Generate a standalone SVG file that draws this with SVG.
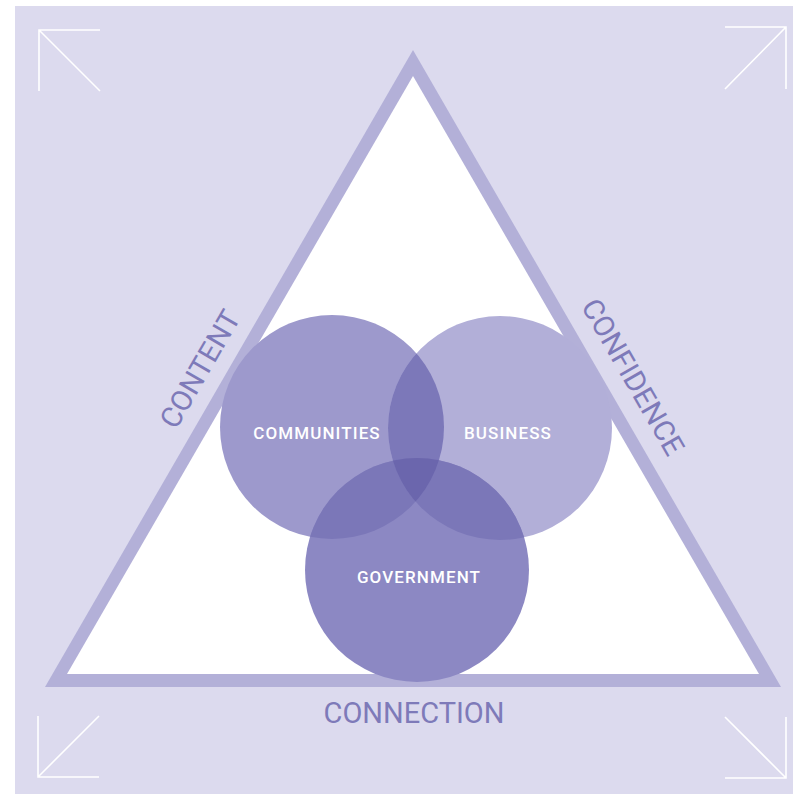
<svg xmlns="http://www.w3.org/2000/svg" width="793" height="794" viewBox="0 0 793 794">
<defs>
<style>
.corner{fill:none;stroke:#ffffff;stroke-width:1.6;}
.lbl{font-family:Roboto,"Liberation Sans",sans-serif;fill:#ffffff;font-size:17px;font-weight:500;letter-spacing:1.1px;text-anchor:middle;}
.side{font-family:Roboto,"Liberation Sans",sans-serif;fill:#7e7ab9;font-size:29px;font-weight:400;text-anchor:middle;}
</style>
<clipPath id="clipC"><circle cx="332" cy="427" r="112"/></clipPath>
<clipPath id="clipB"><circle cx="500" cy="428" r="112"/></clipPath>
</defs>
<rect x="0" y="0" width="793" height="794" fill="#ffffff"/>
<rect x="15" y="6" width="778" height="788" fill="#dcdaee"/>
<g id="corners">
<path class="corner" d="M39,91 L39,30 L100,30 M39,30 L100,91"/>
<path class="corner" d="M725,27 L786,27 L786,89 M786,27 L725,89"/>
<path class="corner" d="M38,716 L38,777 L99,777 M38,777 L99,716"/>
<path class="corner" d="M725,717 L786,778 M786,717 L786,778 L725,778"/>
</g>
<g id="triangle">
<polygon points="413,50 45,687 781,687" fill="#b3b0d8"/>
<polygon points="413,76 67,674 759,674" fill="#ffffff"/>
</g>
<g id="communities">
<circle cx="332" cy="427" r="112" fill="#9d99cc"/>
</g>
<g id="business">
<circle cx="500" cy="428" r="112" fill="#b2afd8"/>
</g>
<g id="government">
<circle cx="417" cy="570" r="112" fill="#8c88c3"/>
</g>
<g id="overlaps">
<circle cx="500" cy="428" r="112" fill="#7c78b9" clip-path="url(#clipC)"/>
<circle cx="417" cy="570" r="112" fill="#7b77b8" clip-path="url(#clipC)"/>
<circle cx="417" cy="570" r="112" fill="#7b77b8" clip-path="url(#clipB)"/>
<g clip-path="url(#clipC)"><circle cx="417" cy="570" r="112" fill="#6b66ad" clip-path="url(#clipB)"/></g>
</g>
<g id="labels">
<text class="lbl" x="317" y="439">COMMUNITIES</text>
<text class="lbl" x="508" y="439">BUSINESS</text>
<text class="lbl" x="419" y="583">GOVERNMENT</text>
</g>
<g id="side-labels">
<text class="side" transform="translate(200,369) rotate(-60)" x="0" y="10">CONTENT</text>
<text class="side" transform="translate(633,377) rotate(60)" x="0" y="10">CONFIDENCE</text>
<text class="side" x="414" y="723">CONNECTION</text>
</g>
</svg>
